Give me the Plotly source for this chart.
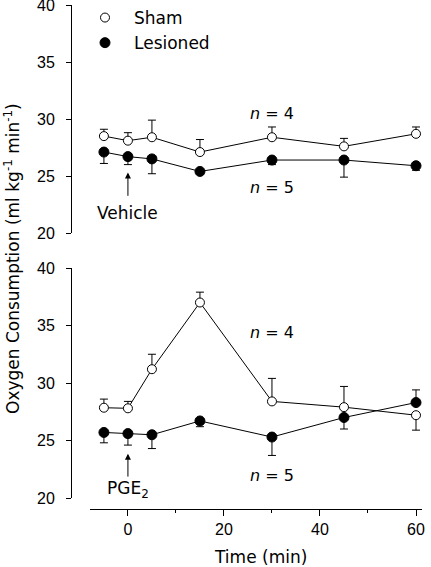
import plotly.graph_objects as go

# ---- data ----
time = [-5, 0, 5, 15, 30, 45, 60]

veh_sham = [28.5, 28.1, 28.4, 27.1, 28.4, 27.6, 28.7]
veh_sham_err = [0.6, 0.7, 1.5, 1.1, 0.9, 0.7, 0.6]
veh_les = [27.1, 26.7, 26.5, 25.4, 26.4, 26.4, 25.9]
veh_les_err = [1.0, 0.7, 1.3, 0.2, 0.4, 1.5, 0.4]

pge_sham = [27.85, 27.8, 31.2, 37.0, 28.4, 27.9, 27.2]
pge_sham_err = [0.75, 0.6, 1.3, 0.9, 2.0, 1.8, 1.3]
pge_sham_dir = [1, 1, 1, 1, 1, 1, -1]   # +1 = bar drawn up, -1 = down
pge_les = [25.7, 25.6, 25.5, 26.7, 25.3, 27.0, 28.3]
pge_les_err = [0.9, 1.0, 1.2, 0.5, 1.6, 1.0, 1.1]
pge_les_dir = [-1, -1, -1, -1, -1, -1, 1]

y_ticks = [20, 25, 30, 35, 40]
x_ticks = [0, 20, 40, 60]
series_names = ["Sham", "Lesioned"]

TXT = "DejaVu Sans"
TICK = "Liberation Sans"


def up_down(err, direction):
    up = [e if d > 0 else 0 for e, d in zip(err, direction)]
    dn = [e if d < 0 else 0 for e, d in zip(err, direction)]
    return up, dn


def marker(filled):
    return dict(symbol="circle", size=10 if filled else 9,
                color="black" if filled else "white",
                line=dict(color="black", width=1))


def trace(x, y, up, dn, filled, yaxis, name):
    return go.Scatter(
        x=x, y=y, xaxis="x", yaxis=yaxis, name=name, showlegend=False,
        mode="lines+markers",
        line=dict(color="black", width=1),
        marker=marker(filled),
        error_y=dict(type="data", symmetric=False, array=up, arrayminus=dn,
                     color="black", thickness=1, width=4),
    )


fig = go.Figure()

n = len(time)
fig.add_trace(trace(time, veh_sham, veh_sham_err, [0] * n, False, "y", "Sham"))
fig.add_trace(trace(time, veh_les, [0] * n, veh_les_err, True, "y", "Lesioned"))
u, d = up_down(pge_sham_err, pge_sham_dir)
fig.add_trace(trace(time, pge_sham, u, d, False, "y2", "Sham"))
u, d = up_down(pge_les_err, pge_les_dir)
fig.add_trace(trace(time, pge_les, u, d, True, "y2", "Lesioned"))

# legend-only entries (markers only, as in the reference key)
for name, filled in zip(series_names, [False, True]):
    fig.add_trace(go.Scatter(x=[None], y=[None], mode="markers", name=name,
                             marker=marker(filled), showlegend=True))

yax = dict(range=[20, 40], tickvals=y_ticks, ticks="outside", ticklen=5,
           tickwidth=1, tickcolor="black", showline=True, linecolor="black",
           linewidth=1, showgrid=False, zeroline=False, anchor="free",
           position=0, ticklabelstandoff=8, ticklabeloverflow="allow",
           tickfont=dict(family=TICK, size=16, color="black"))

fig.update_layout(
    width=431, height=567,
    margin=dict(l=71, r=9, t=5, b=58, autoexpand=False),
    paper_bgcolor="white", plot_bgcolor="white",
    xaxis=dict(domain=[19 / 351, 1], range=[-7.9, 61.25], tickvals=x_ticks,
               ticks="outside", ticklen=6, tickwidth=1, tickcolor="black",
               minor=dict(dtick=10, tick0=0, ticks="outside", ticklen=3,
                          tickcolor="black", tickwidth=1),
               showline=True, linecolor="black", linewidth=1, showgrid=False,
               zeroline=False, anchor="free", position=0, automargin=False,
               ticklabeloverflow="allow",
               tickfont=dict(family=TICK, size=16, color="black")),
    yaxis=dict(domain=[(509 - 233) / 504, 1], automargin=False, **yax),
    yaxis2=dict(domain=[(509 - 498) / 504, (509 - 268) / 504], automargin=False, **yax),
    legend=dict(xref="container", yref="container", x=76 / 431, y=1 + 6 / 567,
                xanchor="left", yanchor="top", bgcolor="rgba(0,0,0,0)",
                itemwidth=48, tracegroupgap=0,
                font=dict(family=TXT, size=17, color="black")),
    showlegend=True,
)

ann = []
# axis titles
ann.append(dict(text="Oxygen Consumption (ml kg<sup>-1</sup> min<sup>-1</sup>)",
                xref="paper", yref="paper", x=(12 - 71) / 351, y=(509 - 259) / 504,
                xanchor="center", yanchor="middle",
                textangle=-90, showarrow=False,
                font=dict(family=TXT, size=17, color="black")))
ann.append(dict(text="Time (min)", xref="paper", yref="paper",
                x=(260 - 71) / 351, y=(509 - 557) / 504,
                xanchor="center", yanchor="middle", showarrow=False,
                font=dict(family=TXT, size=17, color="black")))
# n labels
for yref, yv, t in [("y", 30.45, "<i>n</i> = 4"), ("y", 23.95, "<i>n</i> = 5"),
                    ("y2", 34.43, "<i>n</i> = 4"), ("y2", 21.95, "<i>n</i> = 5")]:
    ann.append(dict(text=t, xref="x", yref=yref, x=30, y=yv, showarrow=False,
                    font=dict(family=TXT, size=16, color="black")))
# treatment labels and arrows
ann.append(dict(text="Vehicle", xref="x", yref="y", x=0, y=21.75, showarrow=False,
                font=dict(family=TXT, size=17, color="black")))
ann.append(dict(text=" ", xref="x", yref="y", x=0, y=25.3, axref="x", ayref="y",
                ax=0, ay=23.0, showarrow=True, arrowhead=2, arrowsize=1.2,
                arrowwidth=1, arrowcolor="black", font=dict(size=2)))
ann.append(dict(text="PGE<sub>2</sub>", xref="x", yref="y2", x=0, y=20.75,
                showarrow=False, font=dict(family=TXT, size=17, color="black")))
ann.append(dict(text=" ", xref="x", yref="y2", x=0, y=23.85, axref="x", ayref="y2",
                ax=0, ay=21.6, showarrow=True, arrowhead=2, arrowsize=1.2,
                arrowwidth=1, arrowcolor="black", font=dict(size=2)))
fig.update_layout(annotations=ann)

fig.write_html("out.html", config={"displayModeBar": False},
               post_script="document.body.style.margin='0';"
                           "document.body.style.overflow='hidden';")
